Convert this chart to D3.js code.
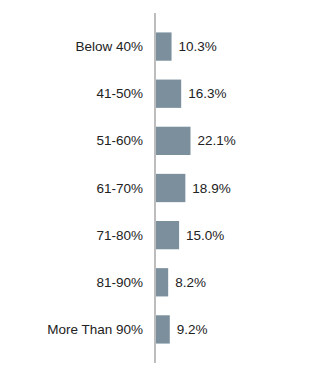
<!DOCTYPE html>
<html>
<head>
<meta charset="utf-8">
<script src="https://cdn.jsdelivr.net/npm/d3@7"></script>
<style>
  body { margin: 0; background: #fff; }
  text { font-family: "Liberation Sans", Arial, sans-serif; fill: #222; }
</style>
</head>
<body>
<div id="chart"></div>
<script>
// data
var categories = ["Below 40%", "41-50%", "51-60%", "61-70%", "71-80%", "81-90%", "More Than 90%"];
var values = [10.3, 16.3, 22.1, 18.9, 15.0, 8.2, 9.2];

var width = 321, height = 376;
var axisX = 155;

var svg = d3.select("#chart")
  .append("svg")
  .attr("width", width)
  .attr("height", height);

var y = d3.scaleBand()
  .domain(categories)
  .range([23, 353])
  .paddingInner(0.4)
  .paddingOuter(0.2);

var x = d3.scaleLinear()
  .domain([0, 22.1])
  .range([axisX, axisX + 35.5]);

var rows = categories.map(function(c, i) { return {cat: c, val: values[i]}; });

// bars
svg.selectAll(".bar")
  .data(rows)
  .join("rect")
    .attr("class", "bar")
    .attr("x", x(0))
    .attr("y", d => y(d.cat))
    .attr("width", d => x(d.val) - x(0))
    .attr("height", y.bandwidth())
    .attr("fill", "#7b8f9d");

// axis line
svg.append("line")
  .attr("x1", axisX).attr("x2", axisX)
  .attr("y1", 13).attr("y2", 363)
  .attr("stroke", "#bdbdbd")
  .attr("stroke-width", 2);

// category labels
svg.selectAll(".cat")
  .data(rows)
  .join("text")
    .attr("class", "cat")
    .attr("x", axisX - 12)
    .attr("y", d => y(d.cat) + y.bandwidth() / 2)
    .attr("text-anchor", "end")
    .attr("dominant-baseline", "central")
    .style("font-size", "13.5px")
    .text(d => d.cat);

// value labels
svg.selectAll(".val")
  .data(rows)
  .join("text")
    .attr("class", "val")
    .attr("x", d => x(d.val) + 7)
    .attr("y", d => y(d.cat) + y.bandwidth() / 2)
    .attr("dominant-baseline", "central")
    .style("font-size", "13.5px")
    .text(d => d.val.toFixed(1) + "%");
</script>
</body>
</html>
